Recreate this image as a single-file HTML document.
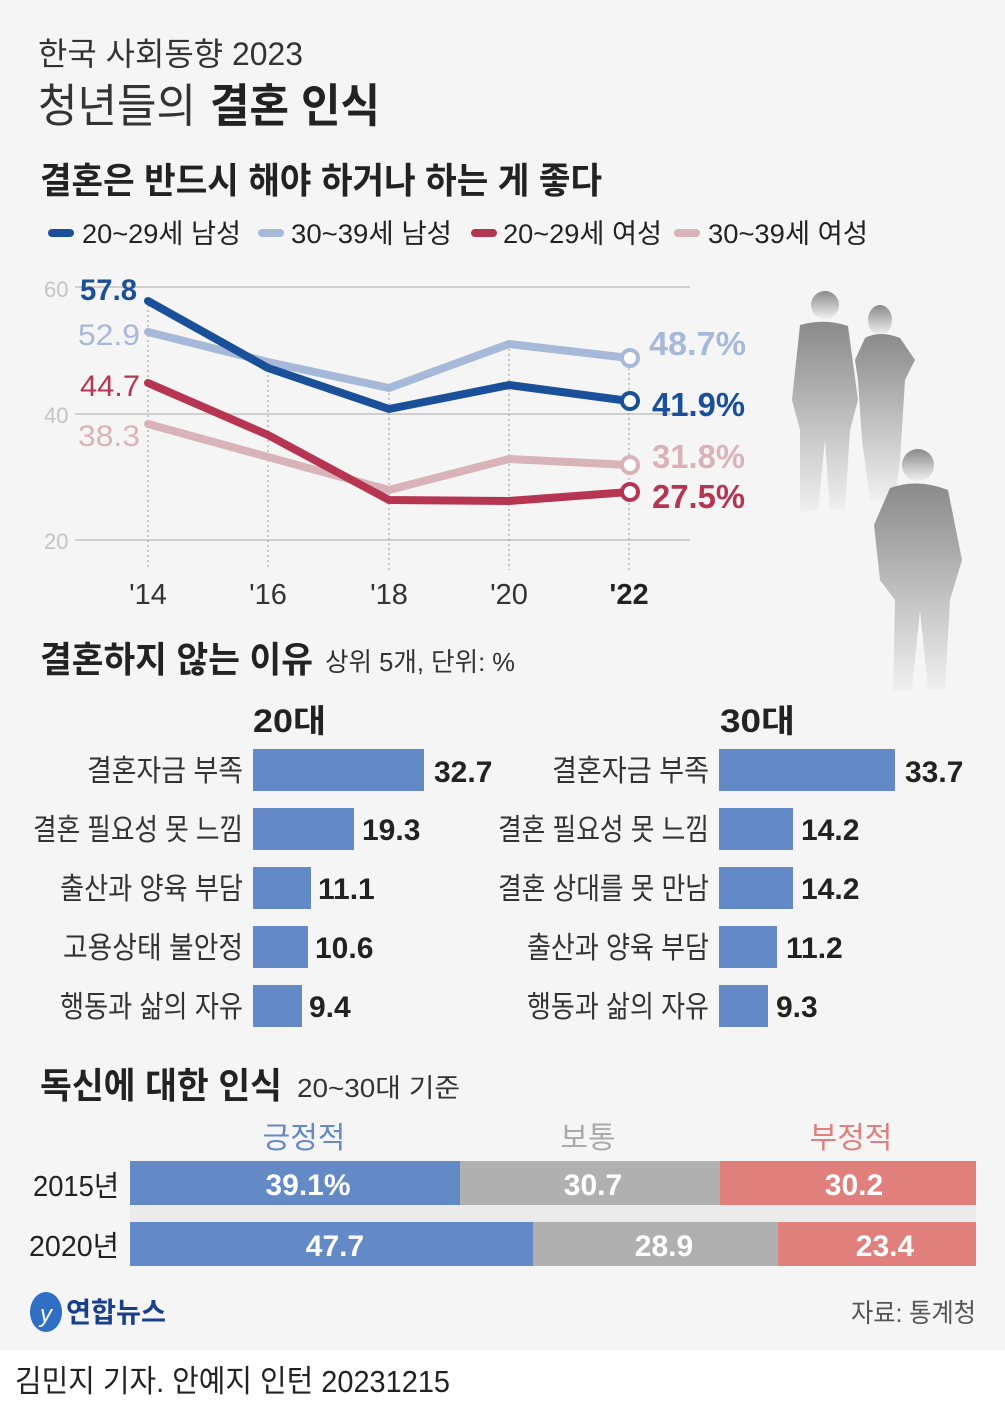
<!DOCTYPE html>
<html><head><meta charset="utf-8"><style>
html,body{margin:0;padding:0;background:#fff;}
svg{display:block;}
text{font-family:"Liberation Sans","Noto Sans CJK KR",sans-serif;}
</style></head><body>
<svg width="1005" height="1409" viewBox="0 0 1005 1409" xmlns="http://www.w3.org/2000/svg">
<defs>
<linearGradient id="sil" x1="0" y1="0" x2="0" y2="1">
<stop offset="0" stop-color="#8a8a8a"/><stop offset="0.6" stop-color="#c8c8c8"/><stop offset="1" stop-color="#f0f0f0"/>
</linearGradient>
</defs>
<rect x="0" y="0" width="1005" height="1350" fill="#f5f5f5"/>
<rect x="0" y="1350" width="1005" height="59" fill="#fff"/>

<text x="38" y="65" font-size="32" fill="#333" textLength="265" lengthAdjust="spacingAndGlyphs">한국 사회동향 2023</text>
<text x="38" y="122" font-size="46" fill="#333" textLength="158" lengthAdjust="spacingAndGlyphs">청년들의</text>
<text x="210" y="122" font-size="46" font-weight="bold" fill="#222" textLength="170" lengthAdjust="spacingAndGlyphs">결혼 인식</text>
<text x="40" y="193" font-size="36" font-weight="bold" fill="#222" textLength="562" lengthAdjust="spacingAndGlyphs">결혼은 반드시 해야 하거나 하는 게 좋다</text>

<g stroke-linecap="round" stroke-width="8">
<line x1="52" y1="233" x2="70" y2="233" stroke="#1a4f9a"/>
<line x1="262" y1="233" x2="280" y2="233" stroke="#a7b9d8"/>
<line x1="475" y1="233" x2="493" y2="233" stroke="#b63552"/>
<line x1="678" y1="233" x2="696" y2="233" stroke="#d9b3ba"/>
</g>
<g font-size="27" fill="#222">
<text x="82" y="243" textLength="159" lengthAdjust="spacingAndGlyphs">20~29세 남성</text>
<text x="291" y="243" textLength="161" lengthAdjust="spacingAndGlyphs">30~39세 남성</text>
<text x="503" y="243" textLength="159" lengthAdjust="spacingAndGlyphs">20~29세 여성</text>
<text x="708" y="243" textLength="160" lengthAdjust="spacingAndGlyphs">30~39세 여성</text>
</g>

<g stroke="#cfcfcf" stroke-width="2">
<line x1="75" y1="287" x2="690" y2="287"/>
<line x1="75" y1="414" x2="690" y2="414"/>
<line x1="75" y1="540" x2="690" y2="540"/>
</g>
<g stroke="#999" stroke-width="1" stroke-dasharray="2,3">
<line x1="148" y1="300" x2="148" y2="570"/>
<line x1="268" y1="360" x2="268" y2="570"/>
<line x1="389" y1="388" x2="389" y2="570"/>
<line x1="509" y1="344" x2="509" y2="570"/>
<line x1="629" y1="358" x2="629" y2="570"/>
</g>
<g font-size="22" fill="#c4c4c4">
<text x="44" y="297">60</text><text x="44" y="423">40</text><text x="44" y="549">20</text>
</g>

<g fill="none" stroke-width="8" stroke-linejoin="round" stroke-linecap="round">
<polyline points="148,424 268,457 389,490 509,459 629,465" stroke="#d9b3ba"/>
<polyline points="148,332 268,362 389,388 509,344 629,358" stroke="#a7b9d8"/>
<polyline points="148,383 268,435 389,500 509,501 629,492" stroke="#b63552"/>
<polyline points="148,301 268,368 389,409 509,385 629,401" stroke="#1a4f9a"/>
</g>
<g stroke-width="4" fill="#fff">
<circle cx="630" cy="358" r="8" stroke="#a7b9d8"/>
<circle cx="630" cy="401" r="8" stroke="#1a4f9a"/>
<circle cx="630" cy="465" r="8" stroke="#d9b3ba"/>
<circle cx="630" cy="492" r="8" stroke="#b63552"/>
</g>
<g font-size="30">
<text x="80" y="300" fill="#1a4f9a" font-weight="bold" textLength="57" lengthAdjust="spacingAndGlyphs">57.8</text>
<text x="78" y="345" fill="#a7b9d8" textLength="62" lengthAdjust="spacingAndGlyphs">52.9</text>
<text x="80" y="396" fill="#b63552" textLength="60" lengthAdjust="spacingAndGlyphs">44.7</text>
<text x="78" y="446" fill="#d9b3ba" textLength="62" lengthAdjust="spacingAndGlyphs">38.3</text>
</g>
<g font-size="33" font-weight="bold">
<text x="649" y="355" fill="#a7b9d8" textLength="97" lengthAdjust="spacingAndGlyphs">48.7%</text>
<text x="652" y="416" fill="#1a4f9a" textLength="93" lengthAdjust="spacingAndGlyphs">41.9%</text>
<text x="652" y="468" fill="#d9b3ba" textLength="93" lengthAdjust="spacingAndGlyphs">31.8%</text>
<text x="652" y="508" fill="#b63552" textLength="93" lengthAdjust="spacingAndGlyphs">27.5%</text>
</g>
<g font-size="29" fill="#333" text-anchor="middle">
<text x="148" y="604">'14</text><text x="268" y="604">'16</text><text x="389" y="604">'18</text><text x="509" y="604">'20</text>
<text x="629" y="604" font-weight="bold" fill="#222">'22</text>
</g>

<g fill="url(#sil)">
<circle cx="825" cy="305" r="14"/>
<path d="M800,325 Q825,318 848,326 L858,400 L850,430 L845,510 L830,510 L825,440 L818,510 L800,512 L800,430 L792,400 Z"/>
<ellipse cx="880" cy="320" rx="12" ry="15"/>
<path d="M865,338 Q880,330 900,338 L915,360 L905,380 L900,460 L895,500 L870,500 L862,440 L858,380 L855,360 Z"/>
<circle cx="918" cy="465" r="16"/>
<path d="M890,488 Q918,478 948,490 L962,560 L950,600 L945,690 L928,690 L920,610 L912,690 L893,692 L895,600 L880,580 L874,525 Z"/>
</g>

<text x="40" y="672" font-size="36" font-weight="bold" fill="#222" textLength="273" lengthAdjust="spacingAndGlyphs">결혼하지 않는 이유</text>
<text x="325" y="671" font-size="26" fill="#333" textLength="190" lengthAdjust="spacingAndGlyphs">상위 5개, 단위: %</text>
<text x="253" y="732" font-size="32" font-weight="bold" fill="#222" textLength="73" lengthAdjust="spacingAndGlyphs">20대</text>
<text x="720" y="732" font-size="32" font-weight="bold" fill="#222" textLength="75" lengthAdjust="spacingAndGlyphs">30대</text>

<g fill="#6389c6">
<rect x="253" y="749" width="171" height="42"/>
<rect x="253" y="808" width="101" height="42"/>
<rect x="253" y="867" width="58" height="42"/>
<rect x="253" y="926" width="55" height="42"/>
<rect x="253" y="985" width="49" height="42"/>
<rect x="719" y="749" width="176" height="42"/>
<rect x="719" y="808" width="74" height="42"/>
<rect x="719" y="867" width="74" height="42"/>
<rect x="719" y="926" width="58" height="42"/>
<rect x="719" y="985" width="49" height="42"/>
</g>
<g font-size="30" fill="#333" lengthAdjust="spacingAndGlyphs">
<text x="87" y="781" textLength="156" lengthAdjust="spacingAndGlyphs">결혼자금 부족</text>
<text x="33" y="840" textLength="210" lengthAdjust="spacingAndGlyphs">결혼 필요성 못 느낌</text>
<text x="60" y="899" textLength="183" lengthAdjust="spacingAndGlyphs">출산과 양육 부담</text>
<text x="63" y="958" textLength="180" lengthAdjust="spacingAndGlyphs">고용상태 불안정</text>
<text x="60" y="1017" textLength="183" lengthAdjust="spacingAndGlyphs">행동과 삶의 자유</text>
<text x="552" y="781" textLength="157" lengthAdjust="spacingAndGlyphs">결혼자금 부족</text>
<text x="498" y="840" textLength="211" lengthAdjust="spacingAndGlyphs">결혼 필요성 못 느낌</text>
<text x="498" y="899" textLength="211" lengthAdjust="spacingAndGlyphs">결혼 상대를 못 만남</text>
<text x="527" y="958" textLength="182" lengthAdjust="spacingAndGlyphs">출산과 양육 부담</text>
<text x="527" y="1017" textLength="182" lengthAdjust="spacingAndGlyphs">행동과 삶의 자유</text>
</g>
<g font-size="30" font-weight="bold" fill="#222">
<text x="434" y="782">32.7</text><text x="362" y="840">19.3</text><text x="318" y="899">11.1</text>
<text x="315" y="958">10.6</text><text x="309" y="1017">9.4</text>
<text x="905" y="782">33.7</text><text x="801" y="840">14.2</text><text x="801" y="899">14.2</text>
<text x="786" y="958">11.2</text><text x="776" y="1017">9.3</text>
</g>

<text x="40" y="1098" font-size="36" font-weight="bold" fill="#222" textLength="242" lengthAdjust="spacingAndGlyphs">독신에 대한 인식</text>
<text x="297" y="1097" font-size="26" fill="#333" textLength="163" lengthAdjust="spacingAndGlyphs">20~30대 기준</text>
<g font-size="30" text-anchor="middle">
<text x="304" y="1148" fill="#6389c6">긍정적</text>
<text x="588" y="1148" fill="#aaa">보통</text>
<text x="851" y="1148" fill="#e07f7b">부정적</text>
</g>
<rect x="130" y="1205" width="846" height="17" fill="#ebebeb"/>
<rect x="130" y="1161" width="330" height="44" fill="#6389c6"/>
<rect x="460" y="1161" width="260" height="44" fill="#b0b0b0"/>
<rect x="720" y="1161" width="256" height="44" fill="#e07f7b"/>
<rect x="130" y="1222" width="403" height="44" fill="#6389c6"/>
<rect x="533" y="1222" width="245" height="44" fill="#b0b0b0"/>
<rect x="778" y="1222" width="198" height="44" fill="#e07f7b"/>
<g font-size="30" font-weight="bold" fill="#fff" text-anchor="middle">
<text x="308" y="1195">39.1%</text><text x="593" y="1195">30.7</text><text x="854" y="1195">30.2</text>
<text x="335" y="1256">47.7</text><text x="664" y="1256">28.9</text><text x="885" y="1256">23.4</text>
</g>
<g font-size="29" fill="#222" text-anchor="end">
<text x="119" y="1196" textLength="86" lengthAdjust="spacingAndGlyphs">2015년</text>
<text x="119" y="1256" textLength="90" lengthAdjust="spacingAndGlyphs">2020년</text>
</g>

<ellipse cx="46" cy="1312" rx="16" ry="20" fill="#2f6fc4"/>
<text x="40" y="1322" font-size="24" font-style="italic" fill="#fff">y</text>
<text x="66" y="1322" font-size="28" font-weight="bold" fill="#1a3f8a" textLength="100" lengthAdjust="spacingAndGlyphs">연합뉴스</text>
<text x="976" y="1322" font-size="26" fill="#555" text-anchor="end" textLength="125" lengthAdjust="spacingAndGlyphs">자료: 통계청</text>

<text x="15" y="1392" font-size="31" fill="#222" textLength="435" lengthAdjust="spacingAndGlyphs">김민지 기자. 안예지 인턴  20231215</text>
</svg>
</body></html>
